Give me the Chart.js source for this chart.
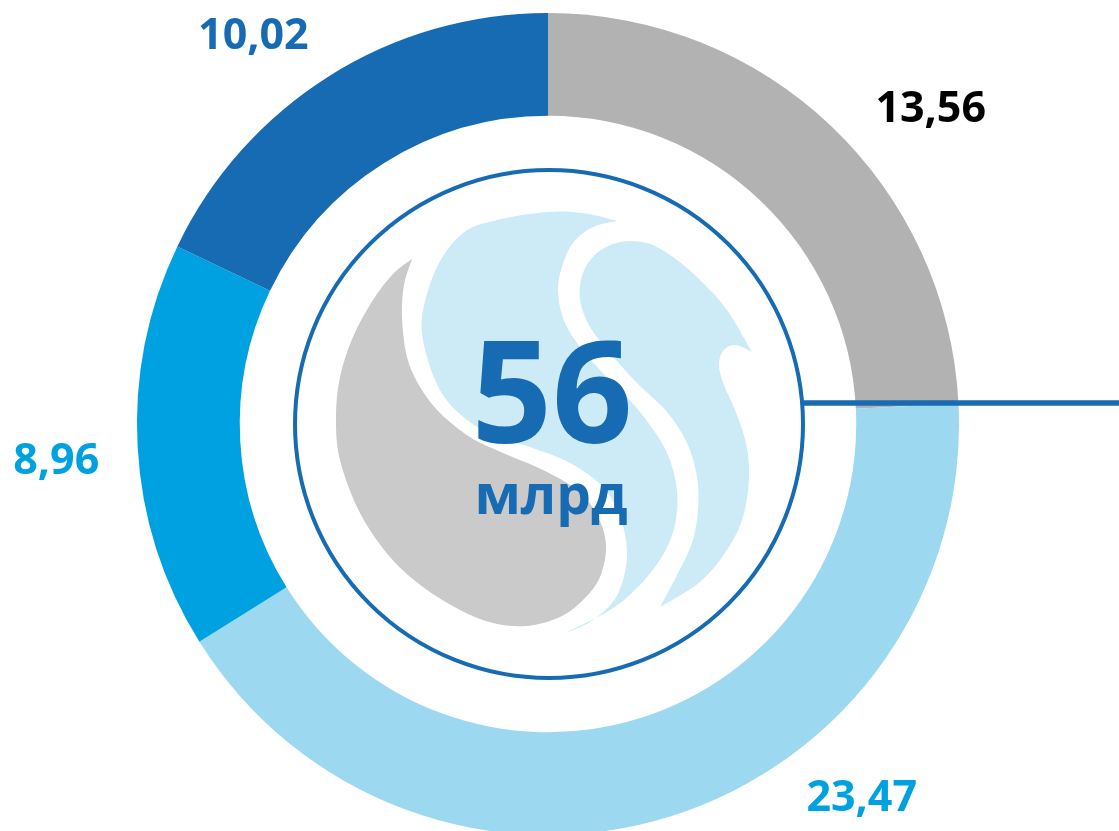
<!DOCTYPE html>
<html>
<head>
<meta charset="utf-8">
<script src="https://cdn.jsdelivr.net/npm/chart.js@4/dist/chart.umd.min.js"></script>
<style>
  html, body { margin: 0; padding: 0; background: #ffffff; overflow: hidden; }
  #wrap { position: relative; width: 1119px; height: 840px; }
</style>
</head>
<body>
<div id="wrap"><canvas id="c"></canvas></div>
<script>
// ---- data ----
const categories = ['Сегмент 1', 'Сегмент 2', 'Сегмент 3', 'Сегмент 4'];
const values = [13.56, 23.47, 8.96, 10.02];
const segmentColors = ['#B2B2B2', '#9CD9F1', '#00A1E0', '#176BB3'];
const labelColors = ['#000000', '#00A1E0', '#00A1E0', '#176BB3'];
const centerUnit = 'млрд';

const fmt = v => v.toFixed(2).replace('.', ',');

// label anchor: angle (deg, clockwise from top) and distance as fraction of outer radius
const labelAnchors = [
  { ang: 50.6, dist: 1.205 },
  { ang: 140.1, dist: 1.19 },
  { ang: 265.6, dist: 1.20 },
  { ang: 322.7, dist: 1.183 }
];

function smoothSeg(ctx, pts) {
  for (let i = 0; i < pts.length - 1; i++) {
    const p0 = pts[i - 1] || pts[i], p1 = pts[i], p2 = pts[i + 1], p3 = pts[i + 2] || pts[i + 1];
    ctx.bezierCurveTo(
      p1[0] + (p2[0] - p0[0]) / 6, p1[1] + (p2[1] - p0[1]) / 6,
      p2[0] - (p3[0] - p1[0]) / 6, p2[1] - (p3[1] - p1[1]) / 6,
      p2[0], p2[1]);
  }
}
function shape(ctx, segs, color) {
  ctx.beginPath();
  ctx.moveTo(segs[0][0][0], segs[0][0][1]);
  segs.forEach(s => smoothSeg(ctx, s));
  ctx.closePath();
  ctx.fillStyle = color;
  ctx.fill();
}

const overlay = {
  id: 'overlay',
  afterDraw(chart) {
    const ctx = chart.ctx;
    const arc = chart.getDatasetMeta(0).data[0];
    const cx = arc.x, cy = arc.y, R = arc.outerRadius;
    const k = R / 411;
    ctx.save();
    // logo (drawn in reference frame with center 548,424)
    ctx.save();
    ctx.translate(cx, cy);
    ctx.scale(k, k);
    ctx.translate(-548, -424);
    const lb = '#CDEBF7';
    // big light-blue shape
    shape(ctx, [
      [[563,634],[590,622],[612,603],[623,580],[627,550],[620,517],[603,487],[570,463],[530,447],[497,437],[467,420],[443,395],[427,357],[422,317],[437,267],[463,233],[497,220],[547,212],[583,213],[617,221]],
      [[617,221],[593,227],[573,243],[562,267],[558,290],[563,318],[577,343],[600,370],[627,397],[650,425],[668,455],[677,490],[675,525],[663,555],[640,585],[610,610],[563,634]]
    ], lb);
    // right light-blue shape
    shape(ctx, [
      [[660,607],[677,575],[692,543],[698,510],[697,477],[687,443],[667,412],[637,383],[610,353],[590,327],[580,300],[583,273],[597,253],[620,242],[647,243],[673,257],[700,280],[727,310],[752,352]],
      [[752,352],[735,345],[723,351],[719,366],[724,385],[735,410],[746,443],[749,477],[743,517],[727,550],[700,582],[660,607]]
    ], lb);
    // gray drop
    shape(ctx, [
      [[412,259],[393,274],[373,300],[353,337],[340,377],[336,417],[340,460],[360,513],[390,557],[423,587],[460,610],[493,623],[527,626],[560,617],[583,600],[600,577],[606,545],[597,515],[577,490],[543,470],[503,453],[470,437],[440,413],[420,387],[407,357],[402,317],[404,285],[412,259]]
    ], '#CACACA');
    ctx.restore();

    // inner ring
    ctx.beginPath();
    ctx.arc(cx + 1 * k, cy, 254 * k, 0, Math.PI * 2);
    ctx.strokeStyle = '#176BB3';
    ctx.lineWidth = 4;
    ctx.stroke();
    // connector line to the right
    const ly = cy - 21 * k;
    ctx.beginPath();
    ctx.moveTo(cx + 256 * k, ly);
    ctx.lineTo(chart.width, ly);
    ctx.lineWidth = 5.5;
    ctx.stroke();

    // center text
    const total = values.reduce((a, b) => a + b, 0);
    ctx.fillStyle = '#176BB3';
    ctx.textAlign = 'center';
    ctx.textBaseline = 'alphabetic';
    ctx.font = 'bold ' + Math.round(141 * k) + 'px "Open Sans"';
    ctx.fillText(String(Math.round(total)), cx + 4 * k, cy + 19 * k);
    ctx.font = 'bold ' + Math.round(55 * k) + 'px "Open Sans"';
    ctx.fillText(centerUnit, cx + 3 * k, cy + 90 * k);

    // value labels
    ctx.font = 'bold ' + Math.round(43 * k) + 'px "Open Sans"';
    values.forEach((v, i) => {
      const a = labelAnchors[i].ang * Math.PI / 180;
      const d = labelAnchors[i].dist * R;
      const x = cx + Math.sin(a) * d;
      const y = cy - Math.cos(a) * d;
      ctx.fillStyle = labelColors[i];
      ctx.textBaseline = 'middle';
      ctx.fillText(fmt(v), x, y);
    });
    ctx.restore();
  }
};

new Chart(document.getElementById('c'), {
  type: 'doughnut',
  data: {
    labels: categories,
    datasets: [{
      data: values,
      backgroundColor: segmentColors,
      borderWidth: 0,
      hoverOffset: 0
    }]
  },
  options: {
    responsive: true,
    maintainAspectRatio: false,
    animation: false,
    cutout: '75%',
    layout: { padding: { top: 13, bottom: 5, left: 0, right: 23 } },
    plugins: { legend: { display: false }, tooltip: { enabled: false } }
  },
  plugins: [overlay]
});
</script>
</body>
</html>
